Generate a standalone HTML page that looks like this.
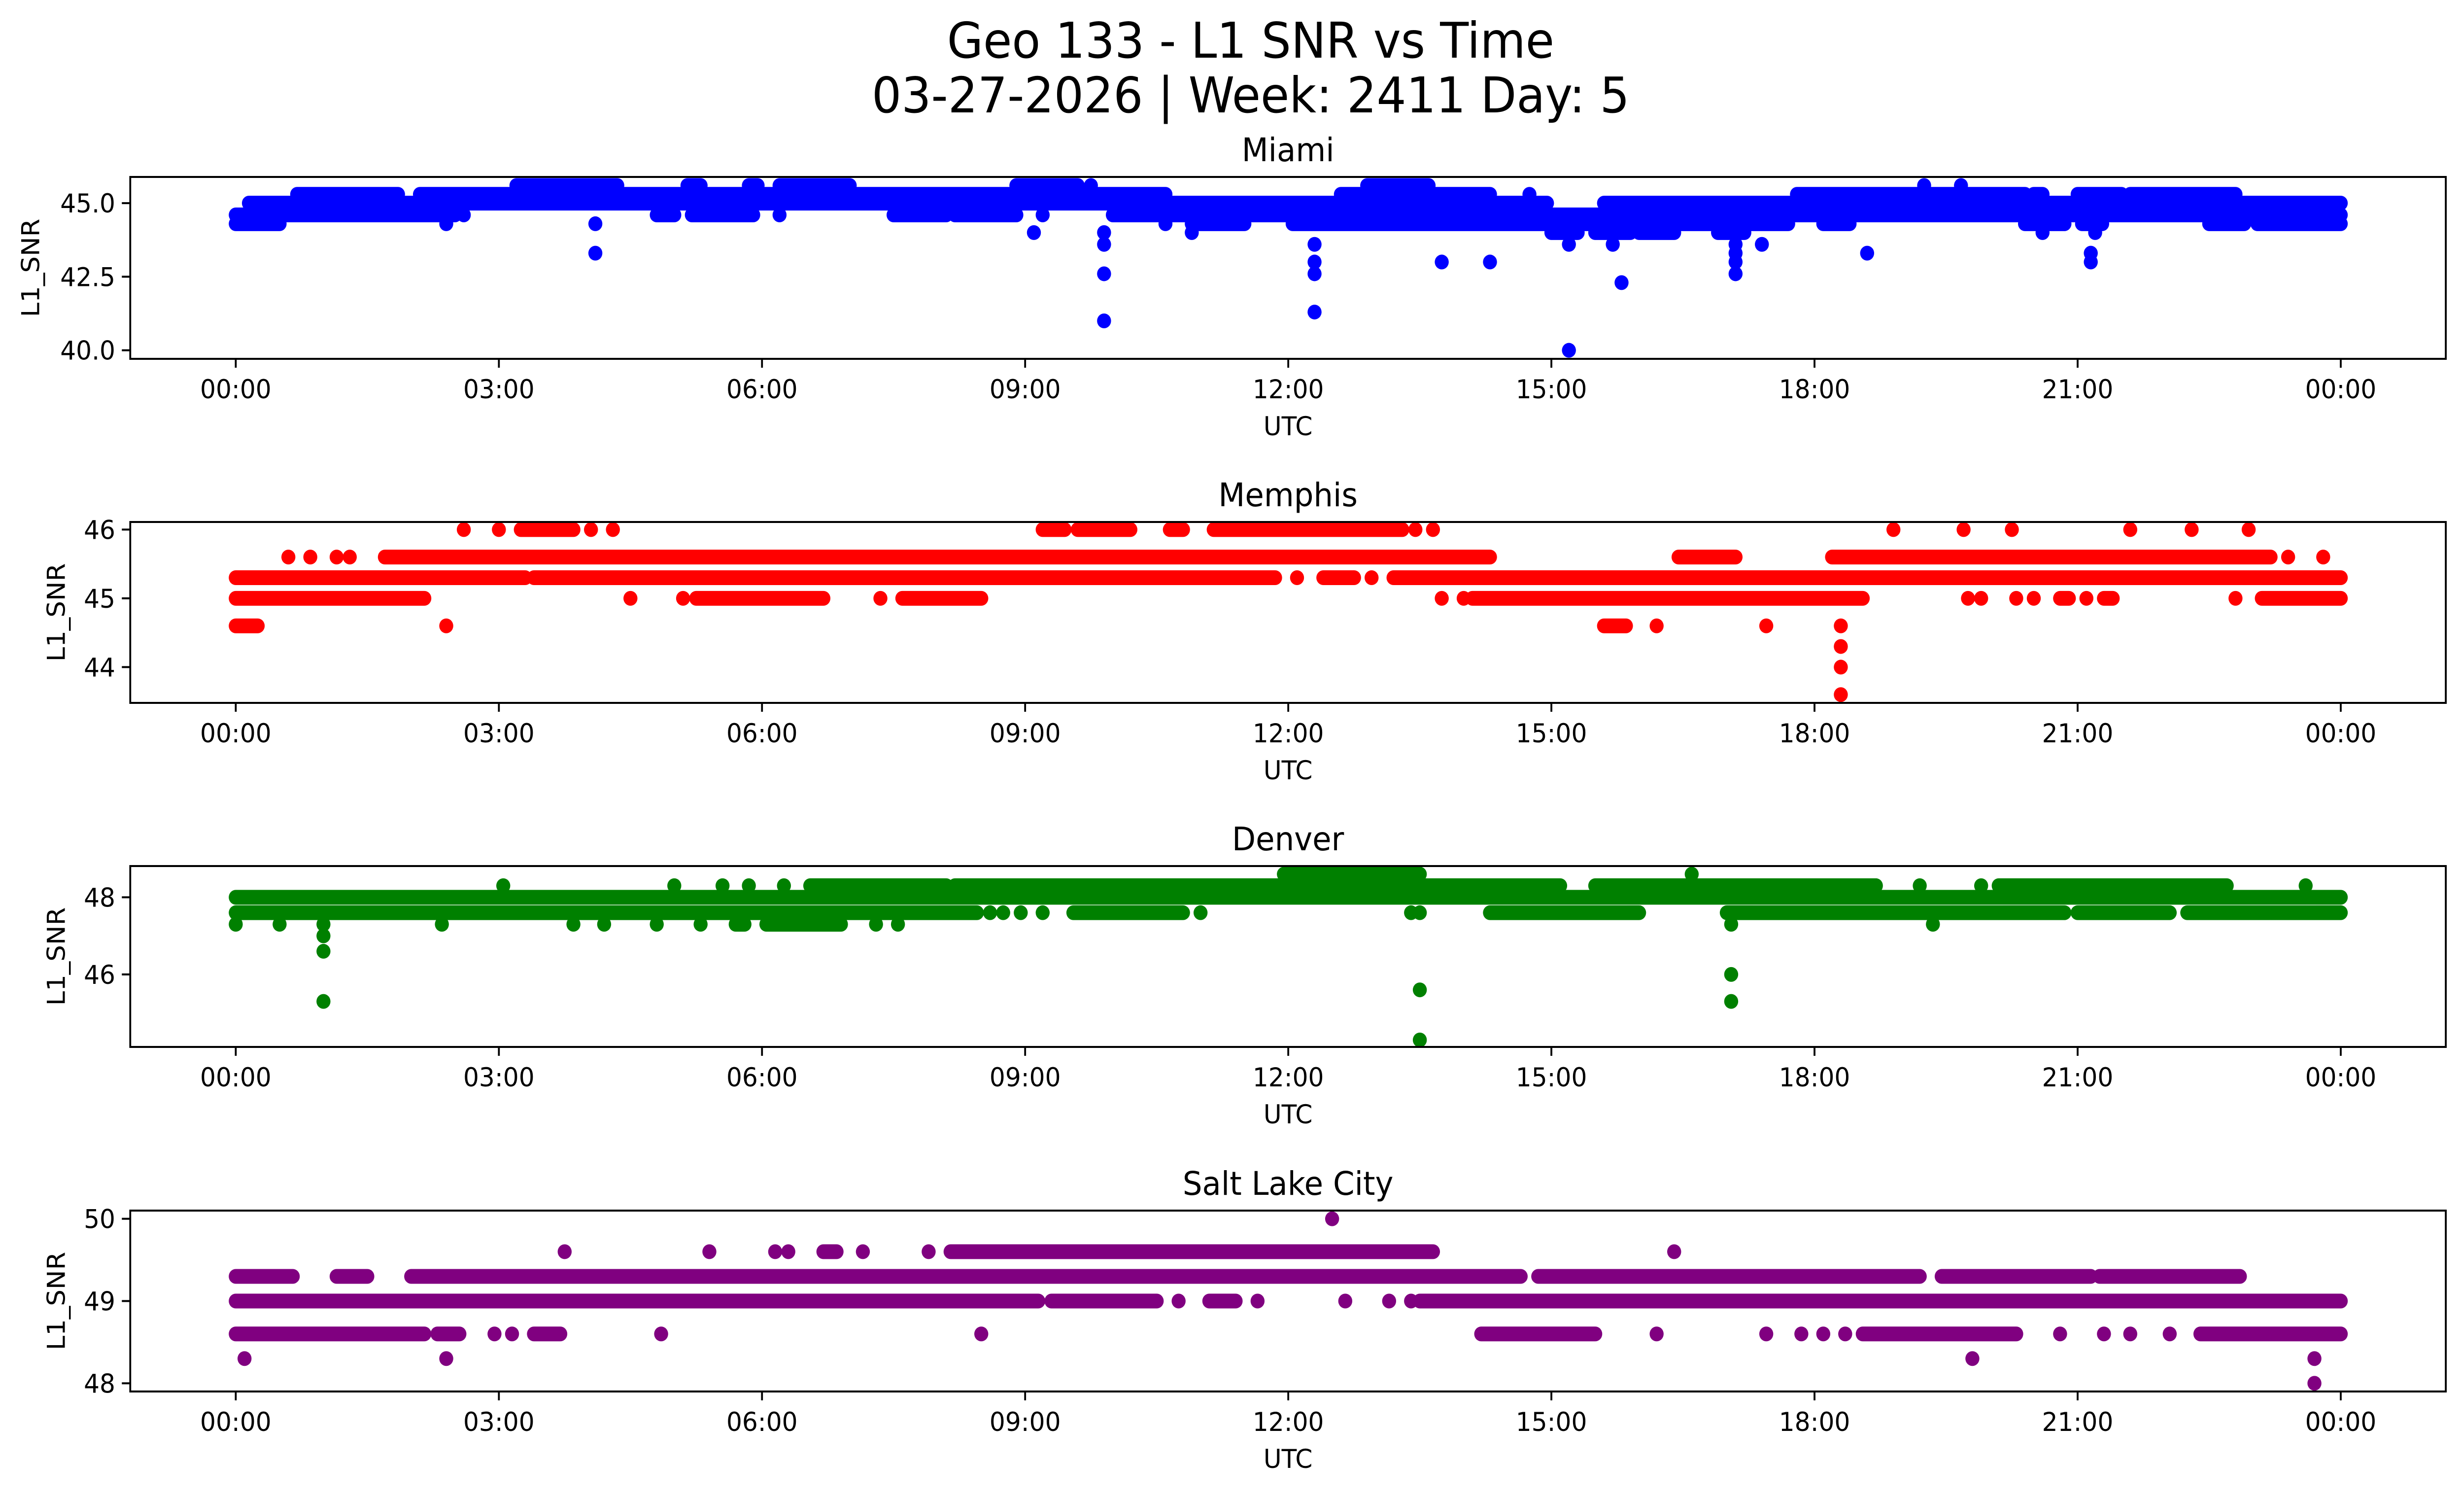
<!DOCTYPE html>
<html><head><meta charset="utf-8">
<style>
html,body{margin:0;padding:0;background:#fff;overflow:hidden;width:100%;height:100%;}
svg{display:block;position:absolute;left:0;top:0;width:100vw;height:100vh;}
text{font-family:"DejaVu Sans","Liberation Sans",sans-serif;fill:#000;}
</style></head>
<body>
<svg id="fig" xmlns="http://www.w3.org/2000/svg" viewBox="0 0 5278 3033" preserveAspectRatio="none">
<rect width="5278" height="3033" fill="#fff"/>
<text x="2679" y="117" font-size="100" text-anchor="middle">Geo 133 - L1 SNR vs Time</text>
<text x="2679" y="228" font-size="100" text-anchor="middle">03-27-2026 | Week: 2411 Day: 5</text>
</svg>
<script>
// time ticks (hours) and labels
const xTickHours = [0,3,6,9,12,15,18,21,24];
const xTickLabels = ["00:00","03:00","06:00","09:00","12:00","15:00","18:00","21:00","00:00"];

// Miami runs: value, start hour, end hour
const miamiValue = [45.6,45.6,45.6,45.6,45.6,45.6,45.6,45.6,45.6,
 45.3,45.3,45.3,45.3,45.3,45.3,45.3,45.3,
 45.0,45.0,
 44.6,44.6,44.6,44.6,44.6,44.6,44.6,44.6,44.6,
 44.3,44.3,44.3,44.3,44.3,44.3,44.3,44.3,44.3,44.3,44.3,
 44.0,44.0,44.0,44.0,44.0,44.0,44.0,44.0,44.0,
 43.6,43.6,43.6,43.6,43.6,43.6,
 43.3,43.3,43.3,43.3,
 43.0,43.0,43.0,43.0,43.0,
 42.6,42.6,42.6, 42.3, 41.3, 41.0, 40.0];
const miamiStart = [3.2,5.15,5.85,6.2,8.9,9.75,12.9,19.25,19.67,
 0.7,2.1,12.6,14.75,17.8,20.5,21.0,21.6,
 0.15,15.6,
 0,2.6,4.8,5.2,6.2,7.5,8.2,9.2,10.0,
 0,2.4,4.1,10.6,10.9,12.05,18.1,20.4,21.05,22.5,23.05,
 9.1,9.9,10.9,15.0,15.5,16.0,16.9,20.6,21.2,
 9.9,12.3,15.2,15.7,17.1,17.4,
 4.1,17.1,18.6,21.15,
 12.3,13.75,14.3,17.1,21.15,
 9.9,12.3,17.1, 15.8, 12.3, 9.9, 15.2];
const miamiEnd = [4.35,5.3,5.95,7.0,9.6,9.75,13.6,19.25,19.67,
 1.85,10.6,14.3,14.75,20.4,20.6,21.5,22.8,
 14.95,24,
 2.5,2.6,5.0,5.9,6.2,8.1,8.9,9.2,24,
 0.5,2.4,4.1,10.6,11.5,17.7,18.4,20.85,21.28,22.9,24,
 9.1,9.9,10.9,15.3,15.9,16.4,17.2,20.6,21.2,
 9.9,12.3,15.2,15.7,17.1,17.4,
 4.1,17.1,18.6,21.15,
 12.3,13.75,14.3,17.1,21.15,
 9.9,12.3,17.1, 15.8, 12.3, 9.9, 15.2];

const memphisValue = [46,46,46,46,46,46,46,46,46,46,46,46,46,46,46,46,46,
 45.6,45.6,45.6,45.6,45.6,45.6,45.6,45.6,45.6,
 45.3,45.3,45.3,45.3,45.3,45.3,
 45.0,45.0,45.0,45.0,45.0,45.0,45.0,45.0,45.0,45.0,45.0,45.0,45.0,45.0,45.0,45.0,45.0,45.0,
 44.6,44.6,44.6,44.6,44.6,44.6, 44.3, 44.0, 43.6];
const memphisStart = [2.6,3.0,3.25,4.05,4.3,9.2,9.6,10.65,11.15,13.45,13.65,18.9,19.7,20.25,21.6,22.3,22.95,
 0.6,0.85,1.15,1.3,1.7,16.45,18.2,23.4,23.8,
 0,3.4,12.1,12.4,12.95,13.2,
 0,4.5,5.1,5.25,7.35,7.6,13.75,14.0,14.1,19.75,19.9,20.3,20.5,20.8,21.1,21.3,22.8,23.1,
 0,2.4,15.6,16.2,17.45,18.3, 18.3, 18.3, 18.3];
const memphisEnd = [2.6,3.0,3.85,4.05,4.3,9.45,10.2,10.8,13.3,13.45,13.65,18.9,19.7,20.25,21.6,22.3,22.95,
 0.6,0.85,1.15,1.3,14.3,17.1,23.2,23.4,23.8,
 3.3,11.85,12.1,12.75,12.95,24,
 2.15,4.5,5.1,6.7,7.35,8.5,13.75,14.0,18.55,19.75,19.9,20.3,20.5,20.9,21.1,21.4,22.8,24,
 0.25,2.4,15.85,16.2,17.45,18.3, 18.3, 18.3, 18.3];

const denverValue = [48.6,48.6,
 48.3,48.3,48.3,48.3,48.3,48.3,48.3,48.3,48.3,48.3,48.3,48.3,
 48.0,
 47.6,47.6,47.6,47.6,47.6,47.6,47.6,47.6,47.6,47.6,47.6,47.6,47.6,
 47.3,47.3,47.3,47.3,47.3,47.3,47.3,47.3,47.3,47.3,47.3,47.3,47.3,47.3,
 47.0,46.6,45.3,45.3,45.6,44.3,46.0];
const denverStart = [11.95,16.6,
 3.05,5.0,5.55,5.85,6.25,6.55,8.2,15.5,19.2,19.9,20.1,23.6,
 0,
 0,8.6,8.75,8.95,9.2,9.55,11.0,13.4,13.5,14.3,17.0,21.0,22.25,
 0,0.5,1.0,2.35,3.85,4.2,4.8,5.3,5.7,6.05,7.3,7.55,17.05,19.35,
 1.0,1.0,1.0,17.05,13.5,13.5,17.05];
const denverEnd = [13.5,16.6,
 3.05,5.0,5.55,5.85,6.25,8.1,15.1,18.7,19.2,19.9,22.7,23.6,
 24,
 8.45,8.6,8.75,8.95,9.2,10.8,11.0,13.4,13.5,16.0,20.85,22.05,24,
 0,0.5,1.0,2.35,3.85,4.2,4.8,5.3,5.8,6.9,7.3,7.55,17.05,19.35,
 1.0,1.0,1.0,17.05,13.5,13.5,17.05];

const slcValue = [50.0,
 49.6,49.6,49.6,49.6,49.6,49.6,49.6,49.6,49.6,
 49.3,49.3,49.3,49.3,49.3,49.3,
 49.0,49.0,49.0,49.0,49.0,49.0,49.0,49.0,49.0,
 48.6,48.6,48.6,48.6,48.6,48.6,48.6,48.6,48.6,48.6,48.6,48.6,48.6,48.6,48.6,48.6,48.6,48.6,48.6,
 48.3,48.3,48.3,48.3, 48.0];
const slcStart = [12.5,
 3.75,5.4,6.15,6.3,6.7,7.15,7.9,8.15,16.4,
 0,1.15,2.0,14.85,19.45,21.25,
 0,9.3,10.75,11.1,11.65,12.65,13.15,13.4,13.5,
 0,2.3,2.95,3.15,3.4,4.85,8.5,14.2,16.2,17.45,17.85,18.1,18.35,18.55,20.8,21.3,21.6,22.05,22.4,
 0.1,2.4,19.8,23.7, 23.7];
const slcEnd = [12.5,
 3.75,5.4,6.15,6.3,6.85,7.15,7.9,13.65,16.4,
 0.65,1.5,14.65,19.2,21.15,22.85,
 9.15,10.5,10.75,11.4,11.65,12.65,13.15,13.4,24,
 2.15,2.55,2.95,3.15,3.7,4.85,8.5,15.5,16.2,17.45,17.85,18.1,18.35,20.3,20.8,21.3,21.6,22.05,24,
 0.1,2.4,19.8,23.7, 23.7];

const panels = [
 {key:'miami', title:'Miami', color:'#0000ff', top:359, bottom:728, yMax:45.89, yMin:39.71, yTicks:[40,42.5,45], yLabels:["40.0","42.5","45.0"], ylx:65, val:miamiValue, s:miamiStart, e:miamiEnd},
 {key:'memphis', title:'Memphis', color:'#ff0000', top:1059, bottom:1426, yMax:46.11, yMin:43.48, yTicks:[44,45,46], yLabels:["44","45","46"], ylx:120, val:memphisValue, s:memphisStart, e:memphisEnd},
 {key:'denver', title:'Denver', color:'#008000', top:1757, bottom:2124, yMax:48.81, yMin:44.12, yTicks:[46,48], yLabels:["46","48"], ylx:120, val:denverValue, s:denverStart, e:denverEnd},
 {key:'salt-lake-city', title:'Salt Lake City', color:'#800080', top:2456, bottom:2823, yMax:50.1, yMin:47.9, yTicks:[48,49,50], yLabels:["48","49","50"], ylx:120, val:slcValue, s:slcStart, e:slcEnd}
];

const NS = 'http://www.w3.org/2000/svg';
const svg = document.getElementById('fig');
const LEFT = 279, RIGHT = 5239;
const X0 = 505, X24 = 5014;
function xScale(h){ return X0 + (X24 - X0) * h / 24; }
function mk(tag, attrs, parent){
  const el = document.createElementNS(NS, tag);
  for (const k in attrs) el.setAttribute(k, attrs[k]);
  parent.appendChild(el);
  return el;
}

panels.forEach(p => {
  const yScale = v => p.top + (p.yMax - v) / (p.yMax - p.yMin) * (p.bottom - p.top);
  const g = mk('g', {}, svg);
  
  

  const clipId = 'clip-' + p.key;
  const cp = mk('clipPath', {id: clipId}, g);
  mk('rect', {x: LEFT, y: p.top, width: RIGHT - LEFT, height: p.bottom - p.top}, cp);

  const marks = mk('g', {'clip-path': 'url(#' + clipId + ')', fill: p.color, stroke: p.color}, g);
  
  
  for (let i = 0; i < p.val.length; i++) {
    const y = yScale(p.val[i]);
    const x1 = xScale(p.s[i]), x2 = xScale(p.e[i]);
    let m;
    if (x2 - x1 < 1) {
      m = mk('circle', {cx: x1, cy: y, r: 15, stroke: 'none'}, marks);
    } else {
      m = mk('line', {x1: x1, y1: y, x2: x2, y2: y, 'stroke-width': 30, 'stroke-linecap': 'round'}, marks);
    }
    
    
  }

  const frame = mk('rect', {x: LEFT, y: p.top, width: RIGHT - LEFT, height: p.bottom - p.top, fill: 'none', stroke: '#000', 'stroke-width': 4}, g);
  
  

  const title = mk('text', {x: (LEFT + RIGHT) / 2, y: p.top - 32, 'font-size': 66, 'text-anchor': 'middle'}, g);
  title.textContent = p.title;
  
  

  xTickHours.forEach((h, i) => {
    const x = xScale(h);
    const t = mk('line', {x1: x, y1: p.bottom, x2: x, y2: p.bottom + 18, stroke: '#000', 'stroke-width': 4}, g);
    
    
    const lb = mk('text', {x: x, y: p.bottom + 80, 'font-size': 53, 'text-anchor': 'middle'}, g);
    lb.textContent = xTickLabels[i];
    
    
  });

  const xl = mk('text', {x: (LEFT + RIGHT) / 2, y: p.bottom + 155, 'font-size': 53, 'text-anchor': 'middle'}, g);
  xl.textContent = 'UTC';
  
  

  p.yTicks.forEach((v, i) => {
    const y = yScale(v);
    const t = mk('line', {x1: LEFT - 18, y1: y, x2: LEFT, y2: y, stroke: '#000', 'stroke-width': 4}, g);
    
    
    const lb = mk('text', {x: LEFT - 32, y: y + 19, 'font-size': 53, 'text-anchor': 'end'}, g);
    lb.textContent = p.yLabels[i];
    
    
  });

  const cy = (p.top + p.bottom) / 2;
  const yl = mk('text', {x: p.ylx + 19, y: cy, 'font-size': 53, 'text-anchor': 'middle', transform: 'rotate(-90 ' + (p.ylx + 19) + ' ' + cy + ')'}, g);
  yl.textContent = 'L1_SNR';
  
  
});
</script>
</body></html>
